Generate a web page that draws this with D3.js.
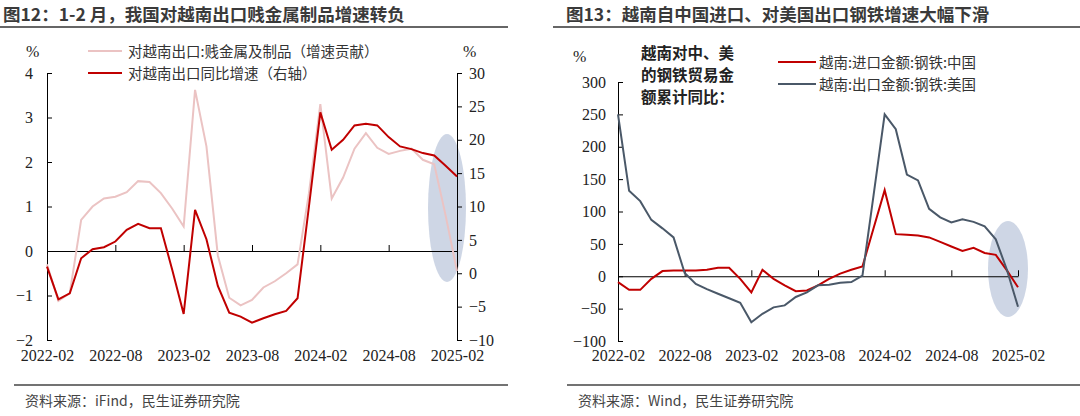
<!DOCTYPE html><html><head><meta charset="utf-8">
<script src="https://cdn.jsdelivr.net/npm/d3@7"></script>
<style>body{margin:0;background:#fff}svg{display:block}.sf{font-family:"Liberation Serif","Times New Roman","DejaVu Serif",serif !important;}</style></head><body>
<svg id="c" width="1080" height="416"></svg>
<script>
const months = d3.range(37).map(i=>{const d=new Date(2022,1+i,1);return d3.timeFormat("%Y-%m")(d);});
const tickLabels = ["2022-02","2022-08","2023-02","2023-08","2024-02","2024-08","2025-02"];
const metalContrib = [-0.3,-1.12,-0.95,0.7,1.0,1.18,1.22,1.32,1.57,1.55,1.3,0.95,0.55,3.62,2.35,-0.1,-1.05,-1.22,-1.1,-0.82,-0.68,-0.5,-0.3,1.3,3.3,1.18,1.65,2.3,2.65,2.32,2.18,2.25,2.3,2.05,1.95,0.8,-0.45];
const vnExportYoY = [1,-3.9,-3,2.25,3.6,3.9,4.75,6.5,7.4,6.75,6.75,0.5,-6.1,9.5,5.1,-1.9,-5.9,-6.5,-7.4,-6.75,-6.15,-5.65,-3.75,10,24.1,18.5,20,22.15,22.4,22.15,20.4,19,18.6,18,17.65,16.1,14.5];
const steelImpChina = [-9,-21,-21,-4,8,9,9,9,10,13,13,-4,-25,10,-4,-14,-23,-22,-14,-4,4,10,15,74,133,65,64,63,60,53,46,39,44,36,33,9,-17];
const steelExpUS = [250,132,116,87,74,60,5,-12,-20,-27,-34,-41,-71,-58,-48,-45,-32,-25,-14,-13,-10,-9,1,125,250,227,157,148,104,91,83,88,84,77,57,10,-47];
const leftTicks=[-2,-1,0,1,2,3,4], rightTicks=[-10,-5,0,5,10,15,20,25,30], r2Ticks=[-100,-50,0,50,100,150,200,250,300];

const svg=d3.select("#c");
const cjk="'Noto Sans CJK SC',sans-serif";
function frame(x0,x1,tx,title,src){
  svg.append("text").attr("x",tx).attr("y",21).attr("font-family",cjk).attr("font-weight","bold").attr("font-size",17.5).attr("fill","#3a3a3a").text(title);
  svg.append("line").attr("x1",x0).attr("x2",x1).attr("y1",27).attr("y2",27).attr("stroke","#333").attr("stroke-width",1.5);
  svg.append("line").attr("x1",x0+14).attr("x2",x1).attr("y1",385).attr("y2",385).attr("stroke","#444").attr("stroke-width",1.5);
  svg.append("text").attr("x",x0+25).attr("y",406).attr("font-family",cjk).attr("font-size",14).attr("fill","#444").text(src);
}
frame(0,508,3,"图12：1-2 月，我国对越南出口贱金属制品增速转负","资料来源：iFind，民生证券研究院");
frame(553,1080,566,"图13：越南自中国进口、对美国出口钢铁增速大幅下滑","资料来源：Wind，民生证券研究院");

function styleTxt(sel){sel.attr("class","sf").style("font-size","16px").attr("fill","#222");}
function xAxis(g,x,y0,yb){
  const a=g.append("g").attr("transform",`translate(0,${y0})`).call(d3.axisBottom(x).tickValues(tickLabels).tickSize(6).tickSizeOuter(0));
  a.select(".domain").attr("stroke","#000");
  a.selectAll(".tick line").attr("stroke","#000").attr("y1",-6).attr("y2",0);
  styleTxt(a.selectAll("text").attr("y",yb-y0).attr("dy","0.35em"));
}
// LEFT
{
  const x=d3.scalePoint().domain(months).range([47,457]);
  const yl=d3.scaleLinear().domain([-2,4]).range([340,73]);
  const yr=d3.scaleLinear().domain([-10,30]).range([340,73]);
  const g=svg.append("g");
  g.append("ellipse").attr("cx",447).attr("cy",208).attr("rx",19).attr("ry",74).attr("fill","#c5cfe0").attr("opacity",0.85);
  const la=g.append("g").attr("transform","translate(47,0)").call(d3.axisLeft(yl).tickValues(leftTicks).tickFormat(d3.format("d")).tickSize(5).tickSizeOuter(0));
  la.select(".domain").attr("stroke","#000");
  la.selectAll(".tick line").attr("stroke","#000").attr("x1",5).attr("x2",0);
  styleTxt(la.selectAll("text").attr("x",-14));
  const ra=g.append("g").attr("transform","translate(457,0)").call(d3.axisRight(yr).tickValues(rightTicks).tickSize(5).tickSizeOuter(0));
  ra.select(".domain").attr("stroke","#000");
  ra.selectAll(".tick line").attr("stroke","#000");
  styleTxt(ra.selectAll("text").attr("x",12));
  xAxis(g,x,yl(0),355);
  g.append("path").attr("d",d3.line().x((d,i)=>x(months[i])).y(d=>yl(d))(metalContrib)).attr("fill","none").attr("stroke","#ebc3c3").attr("stroke-width",2);
  g.append("path").attr("d",d3.line().x((d,i)=>x(months[i])).y(d=>yr(d))(vnExportYoY)).attr("fill","none").attr("stroke","#c00000").attr("stroke-width",2);
  styleTxt(g.append("text").attr("x",26).attr("y",57).text("%"));
  styleTxt(g.append("text").attr("x",463).attr("y",57).text("%"));
  [["对越南出口:贱金属及制品（增速贡献）","#ebc3c3",52],["对越南出口同比增速（右轴）","#c00000",74]].forEach(([t,c,y])=>{
    g.append("line").attr("x1",88).attr("x2",122).attr("y1",y-1).attr("y2",y-1).attr("stroke",c).attr("stroke-width",2);
    g.append("text").attr("x",128).attr("y",y+5).attr("font-family",cjk).attr("font-size",14.5).attr("fill","#333").text(t);});
}
// RIGHT
{
  const x=d3.scalePoint().domain(months).range([618,1018]);
  const y=d3.scaleLinear().domain([-100,300]).range([341,82]);
  const g=svg.append("g");
  g.append("ellipse").attr("cx",1008).attr("cy",269).attr("rx",20).attr("ry",48).attr("fill","#c5cfe0").attr("opacity",0.85);
  const la=g.append("g").attr("transform","translate(618,0)").call(d3.axisLeft(y).tickValues(r2Ticks).tickSize(5).tickSizeOuter(0));
  la.select(".domain").attr("stroke","#000");
  la.selectAll(".tick line").attr("stroke","#000").attr("x1",5).attr("x2",0);
  styleTxt(la.selectAll("text").attr("x",-12));
  xAxis(g,x,y(0),355);
  g.append("path").attr("d",d3.line().x((d,i)=>x(months[i])).y(d=>y(d))(steelImpChina)).attr("fill","none").attr("stroke","#c00000").attr("stroke-width",2);
  g.append("path").attr("d",d3.line().x((d,i)=>x(months[i])).y(d=>y(d))(steelExpUS)).attr("fill","none").attr("stroke","#4a5868").attr("stroke-width",2);
  styleTxt(g.append("text").attr("x",573).attr("y",62).text("%"));
  ["越南对中、美","的钢铁贸易金","额累计同比："].forEach((t,i)=>g.append("text").attr("x",641).attr("y",59+i*22).attr("font-family",cjk).attr("font-weight","bold").attr("font-size",15.5).attr("fill","#222").text(t));
  [["越南:进口金额:钢铁:中国","#c00000",63],["越南:出口金额:钢铁:美国","#4a5868",85]].forEach(([t,c,yy])=>{
    g.append("line").attr("x1",778).attr("x2",816).attr("y1",yy-1).attr("y2",yy-1).attr("stroke",c).attr("stroke-width",2);
    g.append("text").attr("x",819).attr("y",yy+5).attr("font-family",cjk).attr("font-size",14.5).attr("fill","#333").text(t);});
}
</script></body></html>
